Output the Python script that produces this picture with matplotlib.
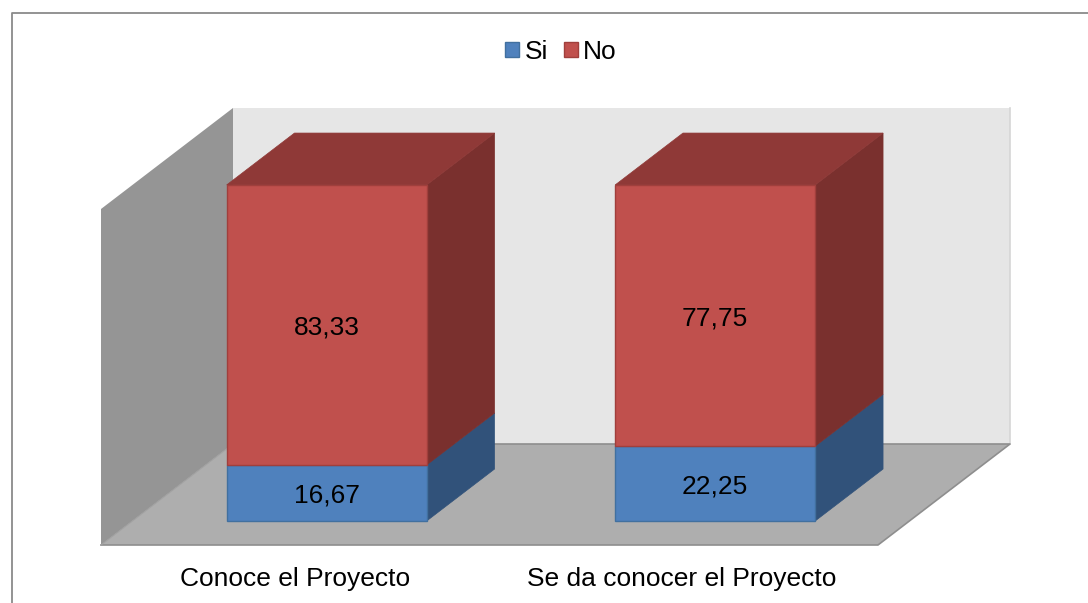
import matplotlib
matplotlib.use('Agg')
import matplotlib.pyplot as plt
from matplotlib.lines import Line2D
from matplotlib.patches import Patch, Polygon

plt.rcParams['font.family'] = ['Liberation Sans', 'DejaVu Sans']

categories = ['Conoce el Proyecto', 'Se da conocer el Proyecto']
si_values = [16.67, 22.25]
no_values = [83.33, 77.75]
series_names = ['Si', 'No']

W, H = 1088, 603

# oblique depth, in data units per unit of depth
DX = 132 / 388.5
DY = 101 * 100 / 336
BAR_WIDTH = 0.515
BAR_NEAR = 0.238
BAR_FAR = 0.752
FS = 19


def proj(x, y, d):
    return (x + d * DX, y + d * DY)


def box(ax, x, bottom, top, front, side, edge, cap=None):
    x0, x1 = x - BAR_WIDTH / 2, x + BAR_WIDTH / 2
    ax.add_patch(Polygon([proj(x1, bottom, BAR_NEAR), proj(x1, bottom, BAR_FAR),
                          proj(x1, top, BAR_FAR), proj(x1, top, BAR_NEAR)],
                         fc=side, ec=side, lw=0.5, zorder=3, clip_on=False))
    if cap:
        ax.add_patch(Polygon([proj(x0, top, BAR_NEAR), proj(x1, top, BAR_NEAR),
                              proj(x1, top, BAR_FAR), proj(x0, top, BAR_FAR)],
                             fc=cap, ec=cap, lw=0.5, zorder=3, clip_on=False))
    ax.add_patch(Polygon([proj(x0, bottom, BAR_NEAR), proj(x1, bottom, BAR_NEAR),
                          proj(x1, top, BAR_NEAR), proj(x0, top, BAR_NEAR)],
                         fc=front, ec=edge, lw=1.0, zorder=4, clip_on=False))
    ax.annotate(f'{top - bottom:.2f}'.replace('.', ','), proj(x, (bottom + top) / 2, BAR_NEAR),
                xytext=(0, -2), textcoords='offset points', ha='center', va='center',
                fontsize=FS, color='black', zorder=5)


fig = plt.figure(figsize=(W / 100, H / 100), dpi=100)
# the axes is the front plane of the 3D box
ax = fig.add_axes([101 / W, 1 - 545 / H, 777 / W, 336 / H])
ax.set_xlim(-0.5, 1.5)
ax.set_ylim(0, 100)
for s in ax.spines.values():
    s.set_visible(False)
ax.patch.set_visible(False)
ax.set_yticks([])
ax.set_xticks([0, 0.995], categories, fontsize=FS)
ax.tick_params(axis='x', length=0, pad=15.5)

# walls and floor
ax.add_patch(Polygon([proj(-0.5, 0, 1), proj(1.5, 0, 1), proj(1.5, 100, 1), proj(-0.5, 100, 1)],
                     fc='#E6E6E6', ec='none', zorder=1, clip_on=False))
ax.plot(*zip(proj(1.5, 0, 1), proj(1.5, 100, 1)), color='#D6D6D6', lw=1.2, zorder=1, clip_on=False)
ax.add_patch(Polygon([proj(-0.5, 0, 0), proj(-0.5, 0, 1), proj(-0.5, 100, 1), proj(-0.5, 100, 0)],
                     fc='#959595', ec='none', zorder=1, clip_on=False))
ax.add_patch(Polygon([proj(-0.5, 0, 0), proj(1.5, 0, 0), proj(1.5, 0, 1), proj(-0.5, 0, 1)],
                     fc='#AEAEAE', ec='none', zorder=2, clip_on=False))
ax.plot(*zip(proj(-0.5, 0, 1), proj(1.5, 0, 1), proj(1.5, 0, 0), proj(-0.5, 0, 0)),
        color='#8E8E8E', lw=1.2, zorder=2, clip_on=False)
ax.plot(*zip(proj(-0.5, 0, 0), proj(-0.5, 0, 1)), color='#A0A0A0', lw=0.8, zorder=2, clip_on=False)

for i in range(len(categories)):
    box(ax, i, 0, si_values[i], '#4F81BD', '#31527A', '#41709F')
    box(ax, i, si_values[i], si_values[i] + no_values[i], '#C0504D', '#7A302E', '#A03F3C', cap='#8F3937')

handles = [Patch(fc='#4F81BD', ec='#41709F', lw=1), Patch(fc='#C0504D', ec='#A03F3C', lw=1)]
fig.legend(handles, series_names, loc='center', bbox_to_anchor=(561 / W, 1 - 52 / H), ncol=2,
           frameon=False, fontsize=FS, handlelength=0.52, handleheight=0.52,
           handletextpad=0.22, columnspacing=0.6)

# outer chart border: only top and left show, the crop cuts off the rest
fig.add_artist(Line2D([11.5 / W, 11.5 / W, 1], [0, 1 - 12.5 / H, 1 - 12.5 / H],
                      color='#8A8A8A', lw=1.3, transform=fig.transFigure))

plt.savefig('out.png', dpi=100)
